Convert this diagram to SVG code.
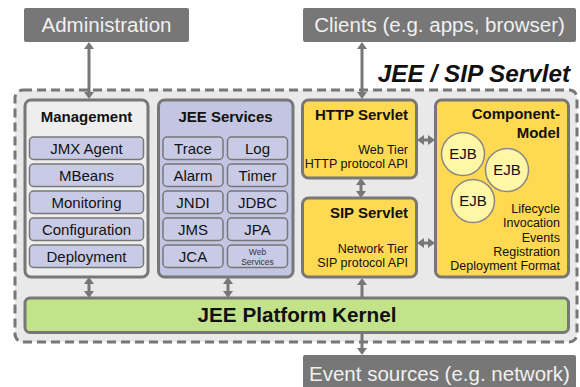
<svg xmlns="http://www.w3.org/2000/svg" width="580" height="387" viewBox="0 0 580 387">
<defs>
<marker id="ah" markerUnits="userSpaceOnUse" markerWidth="8" markerHeight="10" refX="0.5" refY="5" orient="auto-start-reverse">
<path d="M0,0 L7,5 L0,10 z" fill="#777"/>
</marker>
</defs>
<style>
text{font-family:"Liberation Sans",Arial,sans-serif;}
.ext{fill:#777;}
.extt{fill:#f0f0f0;font-size:20.5px;text-anchor:middle;}
.box{stroke:#777;stroke-width:3;}
.item{fill:#c9cbe6;stroke:#777;stroke-width:1.5;}
.it{font-size:15px;text-anchor:middle;fill:#111;}
.title{font-size:15px;font-weight:bold;fill:#111;}
.sm{font-size:12.5px;text-anchor:end;fill:#111;}
.ar{stroke:#777;stroke-width:3;fill:none;}
.ejb{fill:#fff6a6;stroke:#888;stroke-width:1.5;}
</style>
<rect width="580" height="387" fill="#ffffff"/>

<g id="administration">
<rect class="ext" x="24" y="8" width="165" height="34" rx="2"/>
<text class="extt" x="106.5" y="32">Administration</text>
</g>
<g id="clients">
<rect class="ext" x="303" y="8" width="273" height="34" rx="2"/>
<text class="extt" x="439.5" y="32">Clients (e.g. apps, browser)</text>
</g>
<g id="event-sources">
<rect class="ext" x="303" y="355" width="273" height="40" rx="2"/>
<text class="extt" x="439.5" y="381">Event sources (e.g. network)</text>
</g>

<g id="container">
<rect x="15" y="90" width="562" height="252" rx="8" fill="#e9e9e9" stroke="#777" stroke-width="3" stroke-dasharray="9 5"/>
<text x="570" y="82" text-anchor="end" font-size="24.3" font-weight="bold" font-style="italic" fill="#111">JEE / SIP Servlet</text>
</g>

<g id="management">
<rect class="box" x="25" y="100" width="123" height="177" rx="6" fill="#eeeeee"/>
<text class="title" x="86.5" y="122" text-anchor="middle">Management</text>
<rect class="item" x="29.5" y="137" width="114" height="22.5" rx="4"/>
<text class="it" x="86.5" y="154">JMX Agent</text>
<rect class="item" x="29.5" y="164" width="114" height="22.5" rx="4"/>
<text class="it" x="86.5" y="181">MBeans</text>
<rect class="item" x="29.5" y="191" width="114" height="22.5" rx="4"/>
<text class="it" x="86.5" y="208">Monitoring</text>
<rect class="item" x="29.5" y="218" width="114" height="22.5" rx="4"/>
<text class="it" x="86.5" y="235">Configuration</text>
<rect class="item" x="29.5" y="245" width="114" height="22.5" rx="4"/>
<text class="it" x="86.5" y="262">Deployment</text>
</g>

<g id="jee-services">
<rect class="box" x="158.5" y="100" width="134.5" height="177" rx="6" fill="#c3c5e2"/>
<text class="title" x="225.5" y="122" text-anchor="middle">JEE Services</text>
<rect class="item" x="163" y="137" width="60" height="22.5" rx="4"/>
<text class="it" x="193" y="154">Trace</text>
<rect class="item" x="227.5" y="137" width="60" height="22.5" rx="4"/>
<text class="it" x="257.5" y="154">Log</text>
<rect class="item" x="163" y="164" width="60" height="22.5" rx="4"/>
<text class="it" x="193" y="181">Alarm</text>
<rect class="item" x="227.5" y="164" width="60" height="22.5" rx="4"/>
<text class="it" x="257.5" y="181">Timer</text>
<rect class="item" x="163" y="191" width="60" height="22.5" rx="4"/>
<text class="it" x="193" y="208">JNDI</text>
<rect class="item" x="227.5" y="191" width="60" height="22.5" rx="4"/>
<text class="it" x="257.5" y="208">JDBC</text>
<rect class="item" x="163" y="218" width="60" height="22.5" rx="4"/>
<text class="it" x="193" y="235">JMS</text>
<rect class="item" x="227.5" y="218" width="60" height="22.5" rx="4"/>
<text class="it" x="257.5" y="235">JPA</text>
<rect class="item" x="163" y="245" width="60" height="22.5" rx="4"/>
<text class="it" x="193" y="262">JCA</text>
<rect class="item" x="227.5" y="245" width="60" height="22.5" rx="4"/>
<text x="257.5" y="255" font-size="8.5" text-anchor="middle" fill="#333">Web</text>
<text x="257.5" y="264.5" font-size="8.5" text-anchor="middle" fill="#333">Services</text>
</g>

<g id="http-servlet">
<rect class="box" x="302.5" y="100" width="114" height="78" rx="6" fill="#ffd951"/>
<text class="title" x="408" y="120" text-anchor="end" font-size="15.5">HTTP Servlet</text>
<text class="sm" x="408" y="154">Web Tier</text>
<text class="sm" x="408" y="167.5">HTTP protocol API</text>
</g>

<g id="sip-servlet">
<rect class="box" x="302.5" y="198" width="114" height="79" rx="6" fill="#ffd951"/>
<text class="title" x="408" y="218" text-anchor="end" font-size="15.5">SIP Servlet</text>
<text class="sm" x="408" y="253">Network Tier</text>
<text class="sm" x="408" y="267">SIP protocol API</text>
</g>

<g id="component-model">
<rect class="box" x="435.5" y="100" width="133" height="177" rx="6" fill="#ffd951"/>
<text class="title" x="560" y="119" text-anchor="end">Component-</text>
<text class="title" x="560" y="138" text-anchor="end">Model</text>
<circle class="ejb" cx="463" cy="154" r="21.5"/>
<text class="it" x="463" y="159">EJB</text>
<circle class="ejb" cx="507" cy="170" r="21.5"/>
<text class="it" x="507" y="175">EJB</text>
<circle class="ejb" cx="473" cy="201" r="21.5"/>
<text class="it" x="473" y="206">EJB</text>
<text class="sm" x="560" y="213">Lifecycle</text>
<text class="sm" x="560" y="227">Invocation</text>
<text class="sm" x="560" y="242">Events</text>
<text class="sm" x="560" y="256">Registration</text>
<text class="sm" x="560" y="270">Deployment Format</text>
</g>

<g id="kernel">
<rect class="box" x="25" y="298" width="543.5" height="34.5" rx="5" fill="#c2e389"/>
<text x="297" y="322" text-anchor="middle" font-size="20.7" font-weight="bold" fill="#111">JEE Platform Kernel</text>
</g>

<g id="connectors">
<line class="ar" x1="89" y1="48.5" x2="89" y2="92.5" marker-start="url(#ah)" marker-end="url(#ah)"/>
<line class="ar" x1="362" y1="48.5" x2="362" y2="92.5" marker-start="url(#ah)" marker-end="url(#ah)"/>
<line class="ar" x1="361" y1="184.5" x2="361" y2="191.5" marker-start="url(#ah)" marker-end="url(#ah)"/>
<line class="ar" x1="423.5" y1="140" x2="428.5" y2="140" marker-start="url(#ah)" marker-end="url(#ah)"/>
<line class="ar" x1="423.5" y1="243" x2="428.5" y2="243" marker-start="url(#ah)" marker-end="url(#ah)"/>
<line class="ar" x1="89" y1="283.5" x2="89" y2="291.5" marker-start="url(#ah)" marker-end="url(#ah)"/>
<line class="ar" x1="228" y1="283.5" x2="228" y2="291.5" marker-start="url(#ah)" marker-end="url(#ah)"/>
<line class="ar" x1="362" y1="297" x2="362" y2="284.5" marker-end="url(#ah)"/>
<line class="ar" x1="362" y1="333.5" x2="362" y2="348.5" marker-end="url(#ah)"/>
</g>
</svg>
